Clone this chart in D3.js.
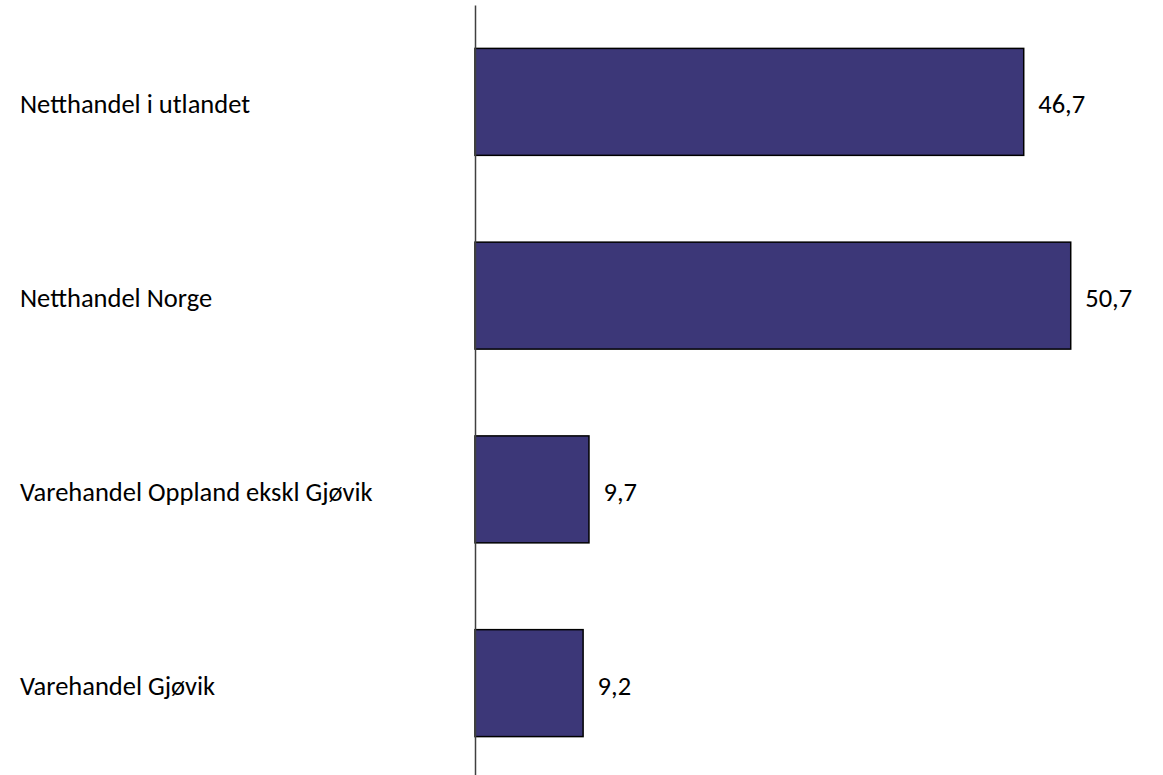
<!DOCTYPE html>
<html>
<head>
<meta charset="utf-8">
<script src="https://cdn.jsdelivr.net/npm/d3@7"></script>
<style>
  html, body { margin: 0; padding: 0; background: #ffffff; }
  svg { display: block; }
  text { font-family: "Calibri", "Carlito", "Open Sans", sans-serif; fill: #000; }
</style>
</head>
<body>
<svg id="chart" width="1163" height="775"></svg>
<script>
const categories = ["Netthandel i utlandet", "Netthandel Norge", "Varehandel Oppland ekskl Gjøvik", "Varehandel Gjøvik"];
const values = [46.7, 50.7, 9.7, 9.2];
const valueLabels = ["46,7", "50,7", "9,7", "9,2"];

const svg = d3.select("#chart");

const x = d3.scaleLinear().domain([0, 60]).range([475, 1180]);
const y = d3.scaleBand().domain(categories).range([5, 780]).paddingInner(0.448).paddingOuter(0.224);

const data = categories.map((c, i) => ({ c, v: values[i], label: valueLabels[i] }));

svg.selectAll("rect.bar").data(data).enter().append("rect")
  .attr("class", "bar")
  .attr("x", x(0))
  .attr("y", d => y(d.c))
  .attr("width", d => x(d.v) - x(0))
  .attr("height", y.bandwidth())
  .attr("fill", "#3c3778")
  .attr("stroke", "#000")
  .attr("stroke-width", 1.5);

const axis = svg.append("g")
  .attr("transform", `translate(${x(0)},0)`)
  .call(d3.axisLeft(y).tickSize(0).tickFormat(""));
axis.select(".domain").attr("stroke", "#404040").attr("stroke-width", 1.5);

svg.selectAll("text.cat").data(data).enter().append("text")
  .attr("class", "cat")
  .attr("x", 20)
  .attr("y", d => y(d.c) + y.bandwidth() / 2 + 11.5)
  .attr("font-size", "26.5px")
  .text(d => d.c);

svg.selectAll("text.val").data(data).enter().append("text")
  .attr("class", "val")
  .attr("x", d => x(d.v) + 14.5)
  .attr("y", d => y(d.c) + y.bandwidth() / 2 + 11.5)
  .attr("font-size", "26.5px")
  .text(d => d.label);
</script>
</body>
</html>
